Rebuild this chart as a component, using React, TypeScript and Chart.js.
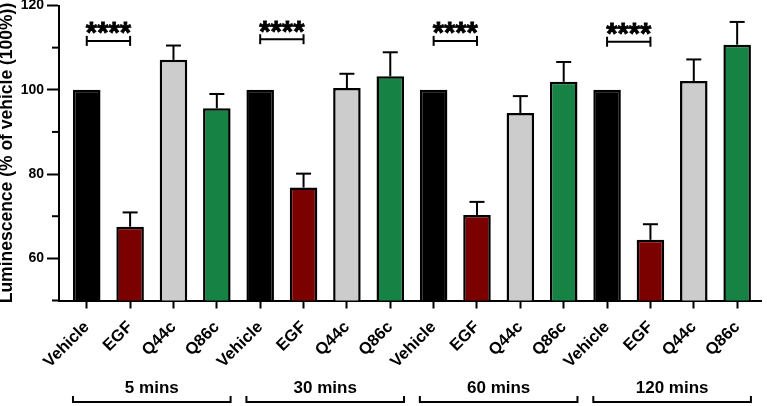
import React, { useEffect, useRef } from 'react';
import { Chart, registerables } from 'chart.js';

Chart.register(...registerables);

const FONT = '"Liberation Sans", Arial, Helvetica, sans-serif';

const categories = [
  'Vehicle', 'EGF', 'Q44c', 'Q86c',
  'Vehicle', 'EGF', 'Q44c', 'Q86c',
  'Vehicle', 'EGF', 'Q44c', 'Q86c',
  'Vehicle', 'EGF', 'Q44c', 'Q86c',
];
const groups = ['5 mins', '30 mins', '60 mins', '120 mins'];
const means = [
  100, 67.5, 107.1, 95.6,
  100, 76.8, 100.4, 103.2,
  100, 70.3, 94.5, 101.9,
  100, 64.4, 102.1, 110.7,
];
const sems = [
  0, 3.4, 3.4, 3.4,
  0, 3.3, 3.4, 5.7,
  0, 3.1, 4.0, 4.7,
  0, 3.7, 5.1, 5.4,
];
const sigLevels = [111.6, 112.0, 111.6, 111.4];
const sigLabels = ['****', '****', '****', '****'];
const yTickLabels = [60, 80, 100, 120];
const treatmentColors = ['#000000', '#7b0000', '#cccccc', '#168243'];

const overlay = {
  id: 'overlay',
  afterDraw(chart: any) {
    const { ctx, chartArea, scales } = chart;
    const y = scales.y;
    const meta = chart.getDatasetMeta(0);
    const line = (x1: number, y1: number, x2: number, y2: number) => {
      ctx.beginPath();
      ctx.moveTo(x1, y1);
      ctx.lineTo(x2, y2);
      ctx.stroke();
    };
    ctx.save();
    ctx.strokeStyle = '#000';
    ctx.fillStyle = '#000';
    ctx.lineWidth = 2;
    ctx.lineCap = 'butt';

    // minor y ticks
    y.ticks.forEach((t: any) => {
      if (yTickLabels.includes(t.value)) return;
      const py = y.getPixelForValue(t.value);
      line(chartArea.left - 7, py, chartArea.left, py);
    });

    // error bars (upper only)
    meta.data.forEach((el: any, i: number) => {
      if (!sems[i]) return;
      const px = el.x;
      const top = y.getPixelForValue(means[i]);
      const tip = y.getPixelForValue(means[i] + sems[i]);
      line(px, top, px, tip);
      line(px - 7.5, tip, px + 7.5, tip);
    });

    groups.forEach((g, gi) => {
      // significance bracket
      const a = meta.data[gi * 4].x;
      const b = meta.data[gi * 4 + 1].x;
      const py = y.getPixelForValue(sigLevels[gi]);
      line(a, py, b, py);
      line(a, py - 5, a, py + 5);
      line(b, py - 5, b, py + 5);
      ctx.font = `bold 29px ${FONT}`;
      ctx.textAlign = 'center';
      ctx.textBaseline = 'alphabetic';
      ctx.lineWidth = 0.8;
      ctx.fillText(sigLabels[gi], (a + b) / 2, py + 1.5);
      ctx.strokeText(sigLabels[gi], (a + b) / 2, py + 1.5);
      ctx.lineWidth = 2;

      // group label + bracket
      const first = meta.data[gi * 4];
      const last = meta.data[gi * 4 + 3];
      const left = first.x - first.width / 2;
      const right = last.x + last.width / 2;
      ctx.font = `bold 17px ${FONT}`;
      ctx.textBaseline = 'middle';
      ctx.fillText(g, (left + right) / 2, 388);
      ctx.beginPath();
      ctx.moveTo(left, 396);
      ctx.lineTo(left, 402);
      ctx.lineTo(right, 402);
      ctx.lineTo(right, 396);
      ctx.stroke();
    });
    ctx.restore();
  },
};

export default function App() {
  const ref = useRef<HTMLCanvasElement>(null);
  useEffect(() => {
    if (!ref.current) return;
    const chart = new Chart(ref.current, {
      type: 'bar',
      data: {
        datasets: [
          {
            data: means.map((v, i) => ({ x: i, y: v })),
            backgroundColor: categories.map((_, i) => treatmentColors[i % 4]),
            borderColor: '#000',
            borderWidth: 2.5,
            barPercentage: 0.635,
            categoryPercentage: 1,
          } as any,
        ],
      },
      options: {
        animation: false,
        responsive: false,
        devicePixelRatio: 1,
        layout: { padding: { top: 5.5, right: 6, left: 0, bottom: 0 } },
        plugins: { legend: { display: false }, tooltip: { enabled: false } },
        scales: {
          x: {
            type: 'linear',
            offset: false,
            min: -0.64,
            max: 15.55,
            grid: { display: true, drawOnChartArea: false, offset: false, tickLength: 8, tickWidth: 2, tickColor: '#000' },
            border: { display: true, color: '#000', width: 2 },
            ticks: {
              stepSize: 1,
              includeBounds: false,
              autoSkip: false,
              maxRotation: 45,
              minRotation: 45,
              padding: 9,
              color: '#000',
              font: { family: FONT, size: 16.5, weight: 'bold' },
              callback: (v: any) => categories[v] ?? '',
            },
            afterFit: (s: any) => {
              s.height = 105.5;
              s.paddingLeft = 0;
              s.paddingRight = 0;
            },
          },
          y: {
            min: 50,
            max: 120,
            grid: {
              drawOnChartArea: false,
              tickLength: 12,
              tickWidth: 2,
              tickColor: (c: any) => (yTickLabels.includes(c.tick?.value) ? '#000' : 'rgba(0,0,0,0)'),
            },
            border: { display: true, color: '#000', width: 2 },
            ticks: {
              stepSize: 10,
              padding: 3,
              color: '#000',
              font: { family: FONT, size: 14, weight: 'bold' },
              callback: (v: any) => (yTickLabels.includes(v) ? String(v) : ''),
            },
            title: {
              display: true,
              text: 'Luminescence (% of vehicle (100%))',
              color: '#000',
              font: { family: FONT, size: 17.5, weight: 'bold', lineHeight: 0.8 },
              padding: 0,
            },
            afterFit: (s: any) => {
              s.width = 59;
              s.paddingTop = 0;
              s.paddingBottom = 0;
            },
          },
        },
      } as any,
      plugins: [overlay],
    });
    return () => chart.destroy();
  }, []);
  return (
    <div style={{ position: 'fixed', left: 0, top: 0, width: 767, height: 406, background: '#fff' }}>
      <canvas ref={ref} width={767} height={406} style={{ display: 'block' }} />
    </div>
  );
}
